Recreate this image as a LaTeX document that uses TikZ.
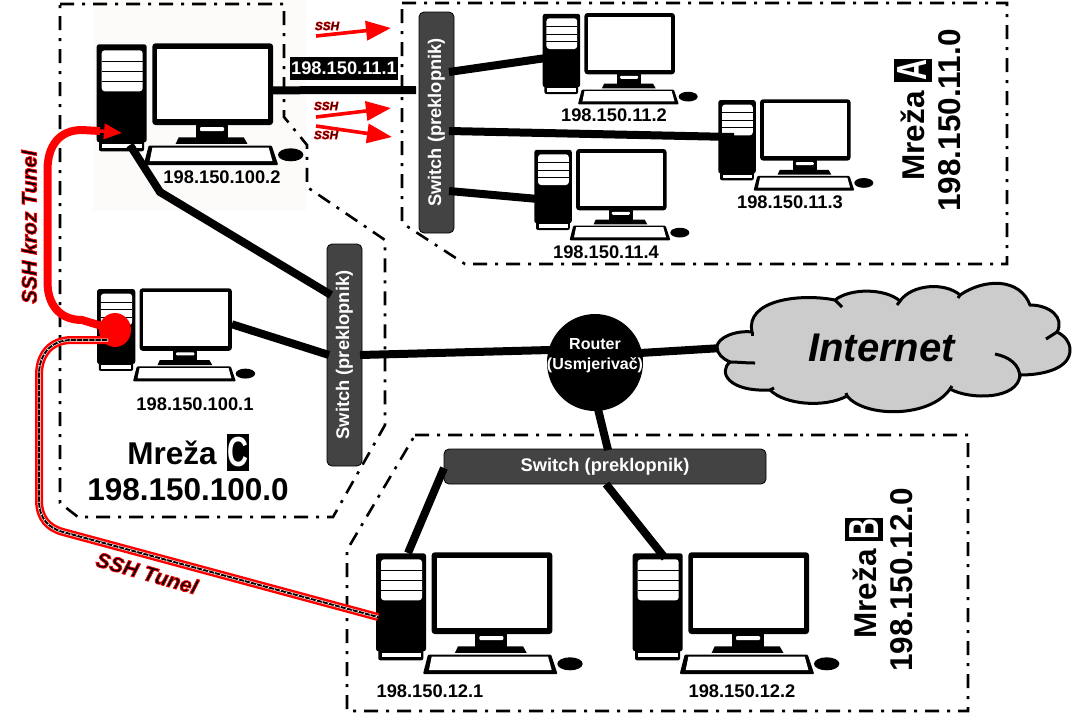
\documentclass[tikz,border=0pt]{standalone}
\usepackage{fontspec}
\setmainfont{Liberation Sans}
\usetikzlibrary{arrows.meta,shapes.geometric}
\definecolor{swgray}{HTML}{434343}
\definecolor{cloudgray}{HTML}{CCCCCC}
\definecolor{pale}{HTML}{FDFBFA}
\tikzset{
  region/.style={draw=black,line width=2.6pt,dash pattern=on 14pt off 8pt on 3pt off 8pt},
  ipl/.style={font=\fontsize{18.3}{20}\selectfont\bfseries,inner sep=0pt},
  ipbox/.style={ipl,fill=black,text=white,minimum width=108pt,minimum height=23pt},
  sw/.style={draw=black,line width=0.8pt,fill=swgray,rounded corners=5pt,text=white,font=\fontsize{18.3}{20}\selectfont\bfseries,inner sep=0pt},
  link/.style={line width=8pt,black},
  netname/.style={font=\fontsize{31.5}{34}\selectfont\bfseries,inner sep=0pt},
  netletter/.style={font=\fontsize{29}{30}\selectfont\bfseries,inner sep=0pt,fill=black,text=white},
  redarrow/.style={red,line width=3.6pt,-{Triangle[length=25pt,width=19pt]}},
  sshs/.style={font=\fontsize{11.8}{12}\selectfont\bfseries\itshape,inner sep=0pt},
  ssht/.style={font=\fontsize{21}{22}\selectfont\bfseries\itshape,inner sep=0pt},
  cloudline/.style={line width=3pt,black}
}
% black glyphs with a red outline, one copy of the text
\newcommand{\redoutline}[2]{\special{pdf:code 1 0 0 RG #1 w 2 Tr}#2\special{pdf:code 0 Tr 0 0 0 RG}}
\newcommand{\tall}[1]{\scalebox{1}[1.45]{#1}}
\newcommand{\pcicon}[4]{%
  \begin{scope}[shift={(#2,#3)},scale=#4]
    \fill[black,rounded corners=2.5pt] (0,1) rectangle (50,99);
    \fill[white,rounded corners=3pt] (5,7) rectangle (46,48);
    \draw[black,line width=#4*1.1pt] (5,18) -- (46,18) (5,28) -- (46,28) (5,38) -- (46,38);
    \fill[black,rounded corners=2pt] (2.3,96) rectangle (47.3,108);
    \fill[white] (5.6,100.3) rectangle (45,105);
    \fill[black,rounded corners=3pt] (55.7,0) rectangle (176.3,81.7);
    \fill[white] (60.7,5.3) rectangle (171.3,76);
    \fill[black] (99,81) rectangle (131.3,95);
    \fill[white,rounded corners=1pt] (103.3,83.7) rectangle (127.3,87.7);
    \fill[black] (79,100.5) -- (82,94) -- (147,94) -- (150.7,100.5) -- cycle;
    \fill[black,rounded corners=1pt] (52,102.2) -- (175,102.2) -- (181.5,121.7) -- (47,121.7) -- cycle;
    \fill[white] (55.7,104.3) -- (172,104.3) -- (175.7,117.7) -- (53,117.7) -- cycle;
    \fill[black] (194,111.5) ellipse [x radius=12.7,y radius=6.5];
    \coordinate (#1-mon) at (176.3,47);
  \end{scope}}
\begin{document}
\begin{tikzpicture}[x=1pt,y=-1pt]
\useasboundingbox (0,0) rectangle (1081,716);
% pale picture background
\fill[pale] (93,0) rectangle (306,211);
% network regions
\draw[region] (60,4) -- (284,4) -- (284,117) -- (307,145) -- (307,187) -- (385,240) -- (385,425) -- (333,517) -- (78,517) -- (60,503) -- cycle;
\draw[region] (402,3) -- (1007,3) -- (1007,264) -- (465,264) -- (402,223) -- cycle;
\draw[region] (415,435) -- (968,435) -- (968,711) -- (347,711) -- (347,550) -- cycle;
% computers
\pcicon{pcTwo}{96.7}{43.3}{1}
\pcicon{pcOne}{97}{288.3}{0.765}
\pcicon{pcAa}{542.7}{13}{0.75}
\pcicon{pcAb}{718.3}{99.3}{0.75}
\pcicon{pcAc}{534.3}{149}{0.75}
\pcicon{pcBa}{376}{552.3}{1}
\pcicon{pcBb}{632.7}{552.3}{1}
% named connector ends
\coordinate (towerTwo) at (130,145);
\coordinate (elbowTwo) at (160,192);
\coordinate (swCupper) at (331,295);
\coordinate (swClower) at (329,355);
\coordinate (swCright) at (360,355);
\coordinate (swAin) at (416,90);
\coordinate (swAa) at (449,72);
\coordinate (swAb) at (449,131);
\coordinate (swAc) at (449,191);
\coordinate (towerAa) at (546,58);
\coordinate (towerAb) at (734,137);
\coordinate (towerAc) at (538,199);
\coordinate (routerDown) at (597,405);
\coordinate (swBtop) at (608,450);
\coordinate (swBleft) at (444,468);
\coordinate (swBright) at (606,484);
\coordinate (towerBa) at (408,553);
\coordinate (towerBb) at (665,558);
\coordinate (cloudEdge) at (722,348);
\coordinate (routerRight) at (640,353);
\coordinate (routerLeft) at (550,350);
% switches
\node[sw,minimum width=35pt,minimum height=221pt] (swA) at (436.5,122.5) {\rotatebox{90}{Switch (preklopnik)}};
\node[sw,minimum width=35pt,minimum height=222pt] (swC) at (344.5,355) {\rotatebox{90}{Switch (preklopnik)}};
\node[sw,minimum width=322pt,minimum height=35pt] (swB) at (605,466.5) {Switch (preklopnik)};
% connectors
\draw[link] (pcTwo-mon) -- (swAin);
\draw[link] (swAa) -- (towerAa);
\draw[link] (swAb) -- (towerAb);
\draw[link] (swAc) -- (towerAc);
\draw[link,miter limit=3] (towerTwo) -- (elbowTwo) -- (swCupper);
\draw[link] (pcOne-mon) -- (swClower);
\draw[link] (swCright) -- (routerLeft);
\draw[link] (routerRight) -- (cloudEdge);
\draw[link] (routerDown) -- (swBtop);
\draw[link] (swBleft) -- (towerBa);
\draw[link] (swBright) -- (towerBb);
% router
\fill[black] (595,362.5) ellipse [x radius=48,y radius=48.5];
\node[text=white,inner sep=0pt,align=center,font=\fontsize{16}{20}\selectfont\bfseries] (router) at (595,356) {Router\\(Usmjerivač)};
% cloud
\draw[cloudline,fill=cloudgray] (752,332) .. controls (735,330) and (717,338) .. (717,347)
  .. controls (717,354) and (723,359) .. (730,362)
  .. controls (718,372) and (728,392) .. (770,390)
  .. controls (785,405) and (825,408) .. (847,396)
  .. controls (865,418) and (930,418) .. (950,389)
  .. controls (970,400) and (1018,400) .. (1020,375)
  .. controls (1045,375) and (1070,368) .. (1070,350)
  .. controls (1070,342) and (1065,336) .. (1057,332)
  .. controls (1065,318) and (1050,305) .. (1030,305)
  .. controls (1020,278) and (985,278) .. (960,295)
  .. controls (945,282) and (912,284) .. (900,301)
  .. controls (885,288) and (850,288) .. (835,300)
  .. controls (800,293) and (745,300) .. (752,332) -- cycle;
\draw[cloudline] (730,362) .. controls (738,362) and (745,363) .. (755,363);
\draw[cloudline] (995,354) .. controls (1010,357) and (1020,365) .. (1020,378);
\draw[cloudline] (1057,332) -- (1046,339);
\draw[cloudline] (835,300) -- (842,307);
\draw[cloudline] (752,332) -- (752,336);
\draw[cloudline] (770,390) -- (774,388);
\draw[cloudline] (900,301) -- (897,305);
\draw[cloudline] (960,295) -- (958,298);
\draw[cloudline] (950,389) -- (952,386);
\draw[cloudline] (847,396) -- (846,393);
\node[inner sep=0pt,font=\fontsize{40}{42}\selectfont\bfseries\itshape] (internet) at (881.5,348) {Internet};
% address labels
\node[ipl] (ipTwo) at (222,177) {198.150.100.2};
\node[ipl] (ipOne) at (195,404) {198.150.100.1};
\node[ipbox] (ipGate) at (344,68) {198.150.11.1};
\node[ipl] (ipAa) at (614,115) {198.150.11.2};
\node[ipl] (ipAb) at (790,202) {198.150.11.3};
\node[ipl] (ipAc) at (606,252) {198.150.11.4};
\node[ipl] (ipBa) at (430,691) {198.150.12.1};
\node[ipl] (ipBb) at (742,691) {198.150.12.2};
% network names
\node[netname] (nameC) at (172,453) {Mreža};
\node[netletter,minimum width=22pt,minimum height=37pt] (letterC) at (238,452) {\tall{C}};
\node[netname] (addrC) at (188,490) {198.150.100.0};
\node[netname,rotate=90] (nameA) at (913,136) {Mreža};
\node[netletter,rotate=90,minimum width=23pt,minimum height=38pt] (letterA) at (912.5,70.5) {\tall{A}};
\node[netname,rotate=90] (addrA) at (950,120.5) {198.150.11.0};
\node[netname,rotate=90] (nameB) at (865,594) {Mreža};
\node[netletter,rotate=90,minimum width=23pt,minimum height=38pt] (letterB) at (864,529.5) {\tall{B}};
\node[netname,rotate=90] (addrB) at (902,580) {198.150.12.0};
% SSH arrows
\coordinate (sA) at (316,36); \coordinate (sAe) at (391,28);
\coordinate (sB) at (316,117); \coordinate (sBe) at (391,108);
\coordinate (sC) at (316,126); \coordinate (sCe) at (392,137);
\draw[redarrow] (sA) -- (sAe);
\draw[redarrow] (sB) -- (sBe);
\draw[redarrow] (sC) -- (sCe);
\node[sshs] (lblA) at (327,26) {\redoutline{0.5}{SSH}};
\node[sshs] (lblB) at (326,106) {\redoutline{0.5}{SSH}};
\node[sshs] (lblC) at (326,135) {\redoutline{0.5}{SSH}};
% tunnel
\node[ellipse,fill=red,minimum width=32pt,minimum height=34pt,inner sep=0pt] (tunnelEnd) at (115,330) {};
\coordinate (innerStart) at (100,131);
\draw[red,line width=8pt,line join=round] (tunnelEnd.center) -- (82,320) .. controls (60,320) and (47.5,305) .. (47.5,282) -- (47.5,170) .. controls (47.5,145) and (60,130) .. (82,130) -- (innerStart);
\coordinate (tipTwo) at (122,133);
\draw[red,line width=3.5pt,-{Triangle[length=18pt,width=15pt]}] (innerStart) -- (tipTwo);
\coordinate (tunA) at (108,340);
\coordinate (tunB) at (378,617);
\def\tunnelpath{(tunA) -- (72,340) .. controls (50,340) and (39,355) .. (39,375) -- (39,500) .. controls (39,518) and (48,528) .. (63,532) -- (tunB)}
\draw[red,line width=8pt] \tunnelpath;
\draw[white,line width=3pt] \tunnelpath;
\draw[black,line width=1.9pt] \tunnelpath;
\draw[white,line width=1.2pt,dash pattern=on 1.2pt off 5pt] \tunnelpath;
\node[ssht,rotate=90] (lblKroz) at (29,227) {\redoutline{0.8}{SSH kroz Tunel}};
\node[ssht,rotate=-16] (lblTun) at (147,573) {\redoutline{0.8}{SSH Tunel}};
\end{tikzpicture}
\end{document}
